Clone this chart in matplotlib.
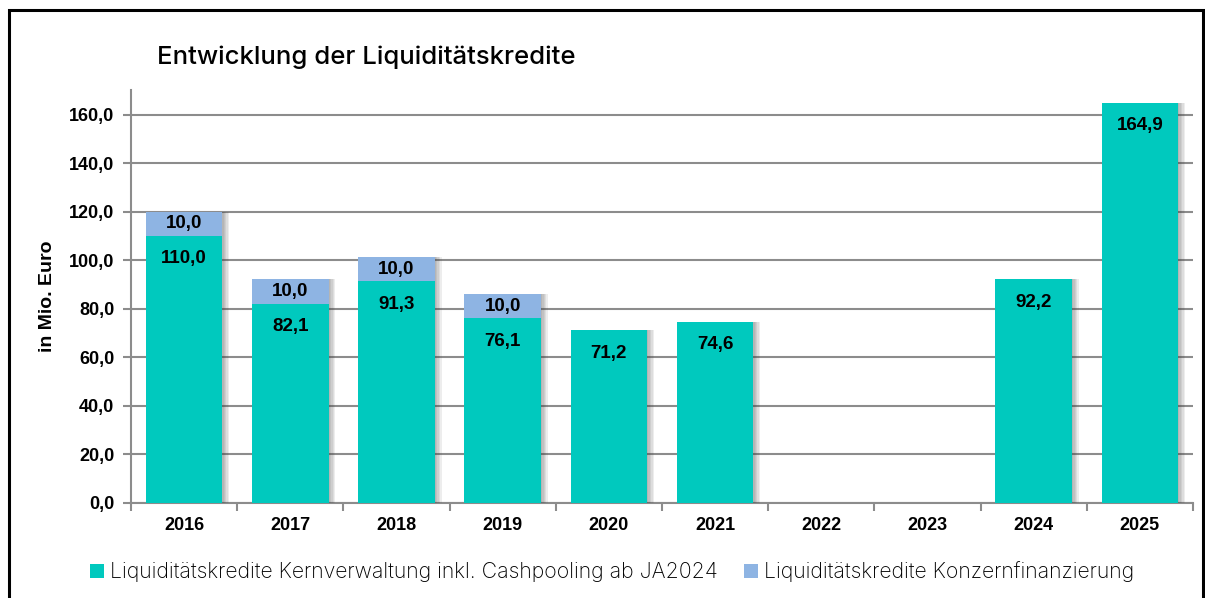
import numpy as np
import matplotlib
matplotlib.use("Agg")
import matplotlib.pyplot as plt
from matplotlib import patheffects as pe
from matplotlib.patches import Rectangle, Patch

years = ["2016", "2017", "2018", "2019", "2020", "2021", "2022", "2023", "2024", "2025"]
kern = [110.0, 82.1, 91.3, 76.1, 71.2, 74.6, np.nan, np.nan, 92.2, 164.9]
konzern = [10.0, 10.0, 10.0, 10.0, np.nan, np.nan, np.nan, np.nan, np.nan, np.nan]
yticks = [0, 20, 40, 60, 80, 100, 120, 140, 160]

title = "Entwicklung der Liquiditätskredite"
ylabel = "in Mio. Euro"
leg1 = "Liquiditätskredite Kernverwaltung inkl. Cashpooling ab JA2024"
leg2 = "Liquiditätskredite Konzernfinanzierung"

c_kern = "#00C9BE"
c_konz = "#8EB4E3"
grid_c = "#8C8C8C"

fig = plt.figure(figsize=(12.05, 5.98), dpi=100)
ax = fig.add_axes([0.1087, 0.159, 0.8813, 0.690])

x = np.arange(len(years))
w = 0.72
shadow = [pe.SimplePatchShadow(offset=(o, 0), shadow_rgbFace="#404040", alpha=0.09) for o in (1, 2, 3, 4, 5)]
shadow.append(pe.Normal())
kv = np.nan_to_num(np.array(kern, dtype=float))
zv = np.nan_to_num(np.array(konzern, dtype=float))
b1 = ax.bar(x, kv, width=w, color=c_kern, zorder=3, path_effects=shadow)
b2 = ax.bar(x, zv, width=w, bottom=kv, color=c_konz, zorder=3, path_effects=shadow)

lab_font = dict(fontfamily="Liberation Sans", fontweight="bold", fontsize=13.5, color="black")
for i in range(len(years)):
    if not np.isnan(kern[i]):
        ax.annotate(f"{kern[i]:.1f}".replace(".", ","), xy=(x[i], kern[i]), xytext=(0, -16.5),
                    textcoords="offset points", ha="center", va="center", zorder=5, **lab_font)
    if not np.isnan(konzern[i]):
        ax.text(x[i], kern[i] + konzern[i] / 2, f"{konzern[i]:.1f}".replace(".", ","),
                ha="center", va="center", zorder=5, **lab_font)

ax.set_xlim(-0.5, len(years) - 0.5)
ax.set_ylim(0, 170)
ax.set_yticks(yticks)
ax.set_yticklabels([f"{v:.1f}".replace(".", ",") for v in yticks],
                   fontfamily="Liberation Sans", fontweight="bold", fontsize=13)
ax.set_xticks(x)
ax.set_xticklabels(years, fontfamily="Liberation Sans", fontweight="bold", fontsize=13)
ax.tick_params(axis="x", length=0, pad=10)
ax.set_xticks(np.arange(-0.5, len(years), 1), minor=True)
ax.tick_params(axis="x", which="minor", length=6, color=grid_c, width=1.5, direction="out")
ax.tick_params(axis="y", length=6, color=grid_c, width=1.5, pad=6)
ax.yaxis.grid(True, color=grid_c, lw=1.5, zorder=0)
ax.set_axisbelow(True)
for s in ["top", "right"]:
    ax.spines[s].set_visible(False)
for s in ["left", "bottom"]:
    ax.spines[s].set_color(grid_c)
    ax.spines[s].set_linewidth(1.5)
ax.set_ylabel(ylabel, fontfamily="Liberation Sans", fontweight="bold", fontsize=14, labelpad=9)

fig.text(0.130, 0.905, title, fontfamily="Inter", fontweight="medium", fontsize=18.5,
         ha="left", va="center")

handles = [Patch(facecolor=c_kern, label=leg1), Patch(facecolor=c_konz, label=leg2)]
leg = fig.legend(handles=handles, loc="center", bbox_to_anchor=(0.508, 0.044), ncol=2,
                 frameon=False, handlelength=0.65, handleheight=0.65, handletextpad=0.3,
                 columnspacing=1.2, prop=dict(family="Inter", weight="light", size=15.3))

fig.patches.append(Rectangle((9 / 1205, -0.1), (1203 - 9) / 1205, 1.1 - 10 / 598, transform=fig.transFigure,
                             fill=False, edgecolor="black", lw=2.2, zorder=10))

fig.savefig("out.png", dpi=100)
